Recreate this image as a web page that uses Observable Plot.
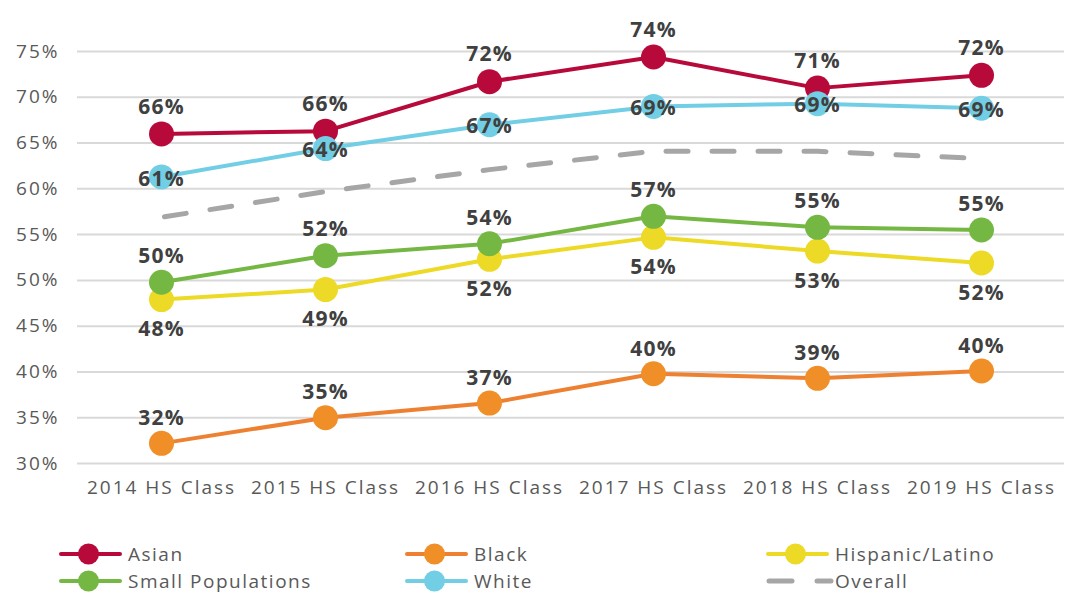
<!DOCTYPE html>
<html><head><meta charset="utf-8">
<script src="https://cdn.jsdelivr.net/npm/d3@7"></script>
<script src="https://cdn.jsdelivr.net/npm/@observablehq/plot@0.6"></script>
<style>
body{margin:0;background:#fff;}
#chart{width:1070px;height:596px;position:relative;font-family:'Open Sans',sans-serif;}
#chart svg{display:block;}
#chart g[aria-label="x-axis tick label"] text{letter-spacing:2px;}
#chart g[aria-label="y-axis tick label"] text{letter-spacing:2px;}
#chart g[aria-label="text"] text{letter-spacing:1.2px;}
#chart .legend text{letter-spacing:1.5px;}
</style>
</head><body><div id="chart"></div>
<script>
// ---- data ----
const classes = ["2014 HS Class","2015 HS Class","2016 HS Class","2017 HS Class","2018 HS Class","2019 HS Class"];
const seriesNames = ["Asian","Black","Hispanic/Latino","Small Populations","White","Overall"];
const asian    = [66.0, 66.3, 71.7, 74.4, 71.0, 72.4];
const black    = [32.2, 35.0, 36.6, 39.8, 39.3, 40.1];
const hispanic = [47.9, 49.0, 52.3, 54.7, 53.2, 51.9];
const smallPop = [49.8, 52.7, 54.0, 57.0, 55.8, 55.5];
const white    = [61.3, 64.4, 67.0, 69.0, 69.3, 68.8];
const overall  = [56.9, 59.7, 62.1, 64.1, 64.1, 63.3];
const asianLabels    = ["66%","66%","72%","74%","71%","72%"];
const blackLabels    = ["32%","35%","37%","40%","39%","40%"];
const hispanicLabels = ["48%","49%","52%","54%","53%","52%"];
const smallPopLabels = ["50%","52%","54%","57%","55%","55%"];
const whiteLabels    = ["61%","64%","67%","69%","69%","69%"];
const yTicks = [30,35,40,45,50,55,60,65,70,75];

// ---- styles ----
const colors = {"Asian":"#B70A3A","Black":"#F08F28","Hispanic/Latino":"#EDDA26","Small Populations":"#74B843","White":"#72CEE4","Overall":"#A6A6A6"};
const lineColors = {"Asian":"#B70A3A","Black":"#EE8131","Hispanic/Latino":"#EDDA26","Small Populations":"#74B843","White":"#72CEE4","Overall":"#A6A6A6"};
const labelDy = {"Asian":-27,"Black":-25,"Hispanic/Latino":30,"Small Populations":-26,"White":2};

const valuesBy = {"Asian":asian,"Black":black,"Hispanic/Latino":hispanic,"Small Populations":smallPop,"White":white,"Overall":overall};
const labelsBy = {"Asian":asianLabels,"Black":blackLabels,"Hispanic/Latino":hispanicLabels,"Small Populations":smallPopLabels,"White":whiteLabels};

const marks = [
  Plot.gridY(yTicks, {stroke:"#d9d9d9", strokeOpacity:1, strokeWidth:2}),
  Plot.axisY(yTicks, {tickSize:0, tickPadding:18, tickFormat:d=>d+"%", fill:"#595959", fontSize:19}),
  Plot.axisX({tickSize:0, tickPadding:17, fill:"#595959", fontSize:19})
];
for (const name of seriesNames) {
  const rows = classes.map((c,i)=>({cls:c, value:valuesBy[name][i]}));
  if (name === "Overall") {
    marks.push(Plot.line(rows, {x:"cls", y:"value", stroke:lineColors[name], strokeWidth:5, strokeDasharray:"22,24", strokeLinecap:"round", strokeDashoffset:-3}));
  } else {
    marks.push(Plot.line(rows, {x:"cls", y:"value", stroke:lineColors[name], strokeWidth:4}));
    marks.push(Plot.dot(rows, {x:"cls", y:"value", r:12.5, fill:colors[name], stroke:"none"}));
  }
}
for (const name of seriesNames) {
  if (!labelsBy[name]) continue;
  const rows = classes.map((c,i)=>({cls:c, value:valuesBy[name][i], label:labelsBy[name][i]}));
  marks.push(Plot.text(rows, {x:"cls", y:"value", text:"label", dy:labelDy[name], fill:"#404040", fontSize:21, fontWeight:"bold"}));
}

const plot = Plot.plot({
  width:1070, height:520,
  marginLeft:77, marginRight:6, marginTop:51, marginBottom:57,
  style:{fontFamily:"'Open Sans',sans-serif", background:"#fff"},
  x:{type:"point", domain:classes, padding:0.5, label:null},
  y:{domain:[30,75], label:null},
  marks
});
document.getElementById("chart").appendChild(plot);

// ---- legend ----
const legendCols = [60, 406, 767];
const legendRows = [34, 61];
const leg = d3.select("#chart").append("svg").attr("class","legend").attr("width",1070).attr("height",76);
seriesNames.forEach((name,i)=>{
  const x = legendCols[i%3], y = legendRows[Math.floor(i/3)];
  const g = leg.append("g").attr("transform",`translate(${x},${y})`);
  if (name === "Overall") {
    g.append("line").attr("x1",2).attr("x2",25).attr("y1",0).attr("y2",0).attr("stroke",lineColors[name]).attr("stroke-width",5).attr("stroke-linecap","round");
    g.append("line").attr("x1",50).attr("x2",64).attr("y1",0).attr("y2",0).attr("stroke",lineColors[name]).attr("stroke-width",5).attr("stroke-linecap","round");
  } else {
    g.append("line").attr("x1",1).attr("x2",60).attr("y1",0).attr("y2",0).attr("stroke",lineColors[name]).attr("stroke-width",4).attr("stroke-linecap","round");
    g.append("circle").attr("cx",28.5).attr("cy",0).attr("r",10.5).attr("fill",colors[name]);
  }
  g.append("text").attr("x",68).attr("y",0).attr("dy","0.35em").attr("fill","#595959").attr("font-size",19).attr("font-family","'Open Sans',sans-serif").text(name);
});
</script>
</body></html>
